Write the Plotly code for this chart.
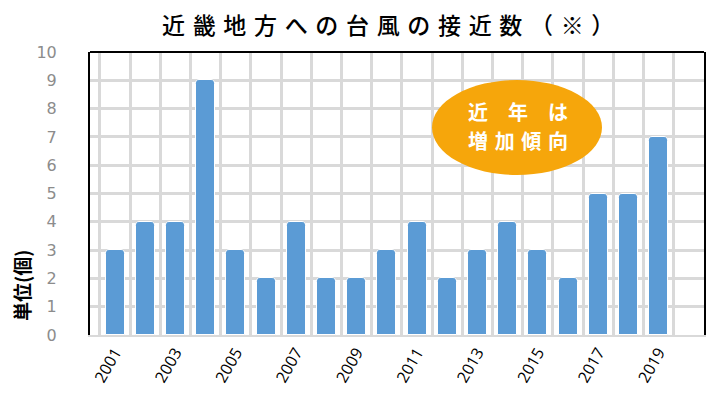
import plotly.graph_objects as go

years = list(range(2001, 2020))
counts = [3, 4, 4, 9, 3, 2, 4, 2, 2, 3, 4, 2, 3, 4, 3, 2, 5, 5, 7]
tick_years = [y for y in years if y % 2 == 1]
tick_labels = [str(y) for y in tick_years]
y_ticks = list(range(0, 11))

title_text = "\u2004".join("近畿地方への台風の接近数（※）")
badge_line1 = "近\u3000年\u3000は"
badge_line2 = "\u2004".join("増加傾向")
y_title = "単位(個)"

# page body has an 8px default margin; figure is sized to fit inside it
W, H = 715, 396
L, T, R, B = 82, 44, 19, 69
pw, ph = W - L - R, H - T - B


def px(x):
    return (x - 8 - L) / pw


def py(y):
    return 1 - (y - 8 - T) / ph


fig = go.Figure()
fig.add_trace(go.Bar(
    x=years, y=counts, width=0.63,
    marker=dict(color="#5B9BD5", line=dict(color="white", width=1), cornerradius=4),
    hoverinfo="skip",
))

fig.update_layout(
    width=W, height=H,
    margin=dict(l=L, r=R, t=T, b=B, autoexpand=False),
    paper_bgcolor="white", plot_bgcolor="white",
    showlegend=False,
    bargap=0,
    xaxis=dict(
        range=[2000.17, 2020.5],
        tickvals=tick_years, ticktext=tick_labels,
        tickangle=-60, automargin=False,
        tickfont=dict(family="Open Sans", size=16, color="black"),
        showgrid=False, zeroline=False,
        showline=True, linecolor="#d9d9d9", linewidth=2,
        ticks="",
        minor=dict(tick0=2000.5, dtick=1, showgrid=True, gridcolor="#d9d9d9", gridwidth=3, ticks=""),
    ),
    yaxis=dict(
        range=[0, 10], tickvals=y_ticks, automargin=False,
        tickfont=dict(family="DejaVu Sans", size=16, color="#8c8c8c"),
        showgrid=True, gridcolor="#d9d9d9", gridwidth=3,
        zeroline=False,
        showline=True, linecolor="black", linewidth=2, mirror=True,
        ticks="", ticklabelstandoff=28,
    ),
    shapes=[
        dict(type="line", xref="paper", yref="paper", x0=0, x1=1, y0=1, y1=1,
             line=dict(color="black", width=2)),
        dict(type="circle", xref="paper", yref="paper",
             x0=px(432), x1=px(602), y0=py(175), y1=py(80),
             fillcolor="#F6A60B", line=dict(width=0), layer="above"),
    ],
    annotations=[
        dict(text=title_text,
             xref="paper", yref="paper", x=px(388), y=py(24),
             showarrow=False, xanchor="center", yanchor="middle",
             font=dict(family="Noto Sans CJK JP", size=23, color="black", weight=500)),
        dict(text=f"<b>{badge_line1}</b>", xref="paper", yref="paper",
             x=px(518), y=py(111), showarrow=False,
             xanchor="center", yanchor="middle",
             font=dict(family="Noto Sans CJK JP", size=20, color="white")),
        dict(text=f"<b>{badge_line2}</b>", xref="paper", yref="paper",
             x=px(518), y=py(140), showarrow=False,
             xanchor="center", yanchor="middle",
             font=dict(family="Noto Sans CJK JP", size=20, color="white")),
        dict(text=f"<b>{y_title}</b>", xref="paper", yref="paper",
             x=px(21), y=py(286), showarrow=False,
             textangle=-90, xanchor="center", yanchor="middle",
             font=dict(family="Noto Sans CJK JP", size=19, color="black")),
    ],
)

fig.write_html("out.html")
